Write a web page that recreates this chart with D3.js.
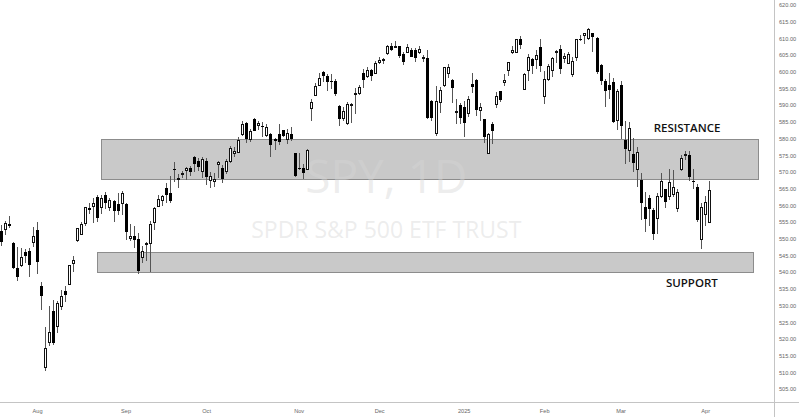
<!DOCTYPE html>
<html><head><meta charset="utf-8">
<script src="https://cdn.jsdelivr.net/npm/d3@7/dist/d3.min.js"></script>
<style>html,body{margin:0;padding:0;background:#fff;}svg{display:block;}</style>
</head><body>
<svg id="chart" width="799" height="417"></svg>
<script>
// ---- data (SPY daily) ----
const dates = ["2024-07-19","2024-07-22","2024-07-23","2024-07-24","2024-07-25","2024-07-26","2024-07-29","2024-07-30","2024-07-31",
"2024-08-01","2024-08-02","2024-08-05","2024-08-06","2024-08-07","2024-08-08","2024-08-09","2024-08-12","2024-08-13","2024-08-14","2024-08-15","2024-08-16","2024-08-19","2024-08-20","2024-08-21","2024-08-22","2024-08-23","2024-08-26","2024-08-27","2024-08-28","2024-08-29","2024-08-30",
"2024-09-03","2024-09-04","2024-09-05","2024-09-06","2024-09-09","2024-09-10","2024-09-11","2024-09-12","2024-09-13","2024-09-16","2024-09-17","2024-09-18","2024-09-19","2024-09-20","2024-09-23","2024-09-24","2024-09-25","2024-09-26","2024-09-27","2024-09-30",
"2024-10-01","2024-10-02","2024-10-03","2024-10-04","2024-10-07","2024-10-08","2024-10-09","2024-10-10","2024-10-11","2024-10-14","2024-10-15","2024-10-16","2024-10-17","2024-10-18","2024-10-21","2024-10-22","2024-10-23","2024-10-24","2024-10-25","2024-10-28","2024-10-29","2024-10-30","2024-10-31",
"2024-11-01","2024-11-04","2024-11-05","2024-11-06","2024-11-07","2024-11-08","2024-11-11","2024-11-12","2024-11-13","2024-11-14","2024-11-15","2024-11-18","2024-11-19","2024-11-20","2024-11-21","2024-11-22","2024-11-25","2024-11-26","2024-11-27","2024-11-29",
"2024-12-02","2024-12-03","2024-12-04","2024-12-05","2024-12-06","2024-12-09","2024-12-10","2024-12-11","2024-12-12","2024-12-13","2024-12-16","2024-12-17","2024-12-18","2024-12-19","2024-12-20","2024-12-23","2024-12-24","2024-12-26","2024-12-27","2024-12-30","2024-12-31",
"2025-01-02","2025-01-03","2025-01-06","2025-01-07","2025-01-08","2025-01-10","2025-01-13","2025-01-14","2025-01-15","2025-01-16","2025-01-17","2025-01-21","2025-01-22","2025-01-23","2025-01-24","2025-01-27","2025-01-28","2025-01-29","2025-01-30","2025-01-31",
"2025-02-03","2025-02-04","2025-02-05","2025-02-06","2025-02-07","2025-02-10","2025-02-11","2025-02-12","2025-02-13","2025-02-14","2025-02-18","2025-02-19","2025-02-20","2025-02-21","2025-02-24","2025-02-25","2025-02-26","2025-02-27","2025-02-28",
"2025-03-03","2025-03-04","2025-03-05","2025-03-06","2025-03-07","2025-03-10","2025-03-11","2025-03-12","2025-03-13","2025-03-14","2025-03-17","2025-03-18","2025-03-19","2025-03-20","2025-03-21","2025-03-24","2025-03-25","2025-03-26","2025-03-27","2025-03-28","2025-03-31",
"2025-04-01","2025-04-02"];

const opens = [552.42,553.00,554.54,548.86,541.35,542.28,546.02,546.26,548.98,
552.57,535.75,511.64,519.22,528.47,523.91,529.81,534.21,536.53,542.85,549.50,551.42,554.73,559.15,559.77,562.56,559.53,563.18,559.49,561.21,560.31,560.77,
560.47,550.20,550.89,549.94,544.65,548.36,548.70,555.01,559.71,561.74,565.10,563.74,571.01,567.84,569.34,570.48,571.14,574.38,573.39,570.42,
573.40,567.71,567.36,572.35,571.30,570.42,573.16,575.77,576.05,581.22,584.59,579.78,585.91,584.07,583.85,581.05,581.26,579.98,581.51,582.58,579.85,581.29,575.56,
571.32,571.18,570.74,589.20,593.08,596.17,599.81,598.68,597.37,597.32,589.72,586.22,584.71,590.38,593.40,593.66,599.52,598.80,600.46,599.66,
602.97,603.39,605.63,607.66,607.44,607.69,605.37,605.78,606.58,606.40,606.00,604.19,603.98,591.36,581.77,590.89,596.06,599.50,597.54,587.89,589.91,
589.39,587.53,596.27,597.42,588.70,585.88,575.77,584.36,590.33,594.17,596.96,600.67,605.92,605.80,609.81,594.81,600.62,603.72,603.96,607.50,
592.67,597.83,600.64,605.99,606.89,604.03,602.55,599.20,604.48,609.94,610.88,610.08,611.54,610.16,602.02,597.15,595.93,596.85,585.56,
596.18,579.71,576.69,575.48,570.90,567.59,559.40,562.17,558.49,556.11,562.79,564.80,562.83,563.33,559.28,570.80,575.30,575.19,567.18,565.53,549.83,
557.45,555.05];

const highs = [554.08,555.27,556.74,549.17,547.46,547.19,547.05,547.34,553.50,
554.87,536.99,523.58,529.75,531.59,531.29,534.51,535.73,542.28,544.96,553.36,555.02,559.61,560.84,562.11,563.18,563.09,563.91,562.06,561.65,563.68,564.20,
560.81,554.43,553.80,551.60,547.71,549.15,555.36,559.40,563.03,563.11,566.58,568.69,572.88,569.31,570.33,571.36,571.89,574.71,574.22,574.38,
574.06,569.90,569.80,573.36,571.96,573.78,577.71,577.58,580.33,585.27,584.90,582.83,586.12,585.39,584.85,584.50,581.71,580.06,584.46,582.71,582.91,583.32,575.63,
575.55,572.50,576.74,591.93,596.65,599.64,600.17,599.29,599.23,597.81,590.20,589.49,591.04,590.79,595.12,596.15,600.86,601.33,600.85,603.35,
604.32,604.16,607.91,608.48,609.07,607.86,605.80,608.43,607.16,607.16,607.78,605.17,606.41,591.48,595.75,595.30,601.34,602.48,597.78,591.74,590.64,
591.13,592.60,599.70,597.75,590.58,585.95,581.75,585.00,593.94,594.35,599.36,603.06,607.82,609.75,610.78,599.69,605.37,604.13,606.60,609.96,
600.29,602.30,604.37,606.45,608.13,605.50,605.86,604.55,609.94,610.99,611.49,613.23,611.68,610.30,602.26,597.89,599.58,598.02,594.72,
597.34,585.39,584.88,580.17,577.39,569.54,564.02,563.11,559.11,563.83,569.71,565.02,570.95,570.57,564.89,575.15,576.41,576.33,570.90,566.27,560.71,
562.94,567.42];

const lows = [547.91,551.02,553.28,540.81,537.45,541.49,542.72,538.52,547.58,
539.43,528.60,510.27,517.87,518.05,521.84,528.56,530.95,536.28,540.12,548.88,551.26,553.86,557.33,554.73,554.98,557.29,559.05,558.32,555.04,557.18,557.14,
549.51,549.46,547.10,539.44,542.68,543.38,539.96,552.74,559.45,559.90,560.79,560.83,566.91,565.17,568.10,567.60,568.91,569.90,570.42,568.08,
566.00,565.27,565.49,568.10,566.63,569.53,572.55,574.49,575.91,580.73,578.54,578.96,582.16,582.58,580.60,580.38,574.42,576.57,578.08,580.52,578.43,579.29,568.44,
570.62,567.89,570.52,585.39,593.00,596.17,597.00,594.37,594.96,592.65,583.86,585.34,584.03,584.63,587.45,593.15,595.20,598.07,597.28,599.38,
602.47,602.34,604.95,606.30,607.02,604.08,602.13,605.50,604.33,602.85,605.21,602.89,585.89,585.17,580.91,587.66,595.47,598.08,590.76,584.41,584.42,
580.50,586.43,593.60,586.78,585.20,578.55,575.35,578.35,589.20,590.93,595.61,598.67,605.36,605.52,606.80,594.64,597.25,599.22,600.72,600.05,
590.49,597.28,598.58,602.63,599.44,602.74,602.43,598.51,603.20,609.07,608.38,609.56,605.86,599.47,596.08,589.56,591.86,584.65,582.44,
579.90,572.25,573.08,570.12,565.63,555.59,552.02,553.69,549.68,551.49,562.35,559.06,561.63,562.60,558.03,570.20,573.69,567.19,564.94,555.07,546.87,
553.68,554.81];

const closes = [548.99,554.65,553.78,541.23,538.41,544.44,544.76,542.00,550.81,
543.01,532.90,517.38,522.15,518.66,530.65,532.99,533.27,542.04,543.75,553.07,554.31,559.61,558.70,560.62,556.22,562.13,560.79,561.56,558.30,558.35,563.68,
552.08,550.95,549.61,540.36,546.41,548.79,554.42,559.09,562.01,562.84,563.07,561.40,570.98,568.25,569.67,571.30,570.04,572.30,571.47,573.76,
568.62,568.86,567.82,572.98,567.80,573.17,577.14,576.13,579.58,584.32,579.78,582.30,582.35,584.59,583.63,583.32,577.99,579.24,579.04,580.83,581.77,580.01,568.64,
571.04,569.81,576.70,591.04,595.61,598.19,598.76,596.90,597.19,593.35,585.75,588.15,590.30,590.50,593.67,595.51,597.53,600.65,598.83,602.55,
603.63,603.91,607.66,606.66,607.81,604.68,602.80,607.46,604.33,604.21,606.79,604.29,586.28,586.10,591.15,594.69,601.30,601.34,595.01,588.22,586.08,
584.64,591.95,595.36,588.63,589.49,580.49,581.39,582.19,592.78,591.64,597.58,603.05,606.44,609.75,607.97,599.37,604.52,601.81,605.04,601.82,
597.77,601.78,604.22,606.32,600.77,604.85,605.31,603.36,609.73,609.70,611.49,612.93,610.38,599.94,597.21,594.24,594.54,585.05,594.18,
583.77,576.86,583.06,572.71,575.92,560.58,555.92,558.87,551.42,562.81,567.15,561.02,567.13,565.49,563.98,574.08,575.46,568.59,567.08,555.66,559.39,
560.97,564.52];

const priceTicks = [620,615,610,605,600,595,590,585,580,575,570,565,560,555,550,545,540,535,530,525,520,515,510,505];
const monthLabels = ["Aug","Sep","Oct","Nov","Dec","2025","Feb","Mar","Apr"];
const monthFirstDates = ["2024-08-01","2024-09-03","2024-10-01","2024-11-01","2024-12-02","2025-01-02","2025-02-03","2025-03-03","2025-04-01"];

const zoneNames = ["RESISTANCE","SUPPORT"];
const zoneLow = [568, 540];
const zoneHigh = [580, 546];
const zoneStartDates = ["2024-08-23","2024-08-22"];
const zoneEndBar = [188, 187]; // bar index (extends past the last bar)

const watermarkTitle = "SPY, 1D";
const watermarkSub = "SPDR S&P 500 ETF TRUST";

// ---- drawing ----
const W = 799, H = 417;
const axisX = 774.5, axisY = 402.5;
const svg = d3.select("#chart");
svg.append("rect").attr("width", W).attr("height", H).attr("fill", "#fff");

const n = dates.length;
const x = d3.scaleLinear().domain([0, n - 1]).range([0.8, 0.8 + (n - 1) * 4.025]);
const y = d3.scaleLinear().domain([505, 620]).range([389, 5]);

const bars = dates.map((d, i) => ({d, i, o: opens[i], h: highs[i], l: lows[i], c: closes[i]}));
const idxOf = d => dates.indexOf(d);

// zones
const zones = zoneNames.map((name, k) => ({name, lo: zoneLow[k], hi: zoneHigh[k], s: idxOf(zoneStartDates[k]), e: zoneEndBar[k]}));
const zg = svg.append("g").attr("shape-rendering", "crispEdges");
zg.selectAll("rect").data(zones).join("rect")
  .attr("x", z => Math.round(x(z.s)) + 0.5)
  .attr("y", z => Math.round(y(z.hi)) + 0.5)
  .attr("width", z => Math.round(x(z.e)) - Math.round(x(z.s)))
  .attr("height", z => Math.round(y(z.lo)) - Math.round(y(z.hi)))
  .attr("fill", "#c9c9c9")
  .attr("stroke", "#8c8c8c")
  .attr("stroke-width", 1);

// watermark
const cxW = axisX / 2 - 1;
svg.append("text").text(watermarkTitle)
  .attr("x", cxW).attr("y", 193).attr("text-anchor", "middle")
  .attr("font-family", "'Open Sans', sans-serif").attr("font-size", 46)
  .attr("fill", "#d6d6d6").attr("fill-opacity", 0.45);
svg.append("text").text(watermarkSub)
  .attr("x", cxW).attr("y", 238).attr("text-anchor", "middle")
  .attr("font-family", "'Open Sans', sans-serif").attr("font-size", 23)
  .attr("fill", "#d6d6d6").attr("fill-opacity", 0.45);

// candles
const cg = svg.append("g").attr("shape-rendering", "crispEdges");
const cand = cg.selectAll("g").data(bars).join("g");
cand.append("line")
  .attr("x1", b => Math.round(x(b.i)) + 0.5).attr("x2", b => Math.round(x(b.i)) + 0.5)
  .attr("y1", b => Math.round(y(b.h))).attr("y2", b => Math.round(y(b.l)))
  .attr("stroke", "#555").attr("stroke-width", 1);
cand.append("rect")
  .attr("x", b => b.c >= b.o ? Math.round(x(b.i)) - 0.5 : Math.round(x(b.i)) - 1)
  .attr("y", b => Math.round(y(Math.max(b.o, b.c))) + (b.c >= b.o ? 0.5 : 0))
  .attr("width", b => b.c >= b.o ? 2 : 3)
  .attr("height", b => {
    const h = Math.round(y(Math.min(b.o, b.c))) - Math.round(y(Math.max(b.o, b.c)));
    return Math.max(h, 1);
  })
  .attr("fill", b => b.c >= b.o ? "#fff" : "#000")
  .attr("stroke", b => b.c >= b.o ? "#111" : "none")
  .attr("stroke-width", 1);

// zone labels
svg.selectAll("text.zl").data(zones).join("text").attr("class", "zl")
  .text(z => z.name)
  .attr("x", z => x(z.name === "RESISTANCE" ? 170.5 : 171.7))
  .attr("y", z => z.name === "RESISTANCE" ? y(z.hi) - 7 : y(z.lo) + 15)
  .attr("text-anchor", "middle")
  .attr("font-family", "'Open Sans', sans-serif").attr("font-weight", 600)
  .attr("font-size", 11.5).attr("fill", "#111");

// axes lines
const ag = svg.append("g").attr("shape-rendering", "crispEdges");
ag.append("line").attr("x1", 0).attr("x2", W).attr("y1", axisY).attr("y2", axisY).attr("stroke", "#c4c4c4");
ag.append("line").attr("x1", axisX).attr("x2", axisX).attr("y1", 0).attr("y2", H).attr("stroke", "#c4c4c4");

// price axis
const yAxis = d3.axisRight(y).tickValues(priceTicks).tickSize(0).tickPadding(4.5).tickFormat(d3.format(".2f"));
const yg = svg.append("g").attr("transform", `translate(${axisX},0)`).call(yAxis);
yg.select(".domain").remove();
yg.selectAll("text").attr("font-family", "'Liberation Sans', Arial, sans-serif").attr("font-size", 5.6).attr("fill", "#666");

// time axis
const monthPos = monthFirstDates.map(idxOf);
const xAxis = d3.axisBottom(x).tickValues(monthPos).tickSize(0).tickPadding(6.5)
  .tickFormat((d, k) => monthLabels[k]);
const xg = svg.append("g").attr("transform", `translate(0,${axisY})`).call(xAxis);
xg.select(".domain").remove();
xg.selectAll("text").attr("font-family", "'Liberation Sans', Arial, sans-serif").attr("font-size", 5.6).attr("fill", "#666");
</script>
</body></html>
